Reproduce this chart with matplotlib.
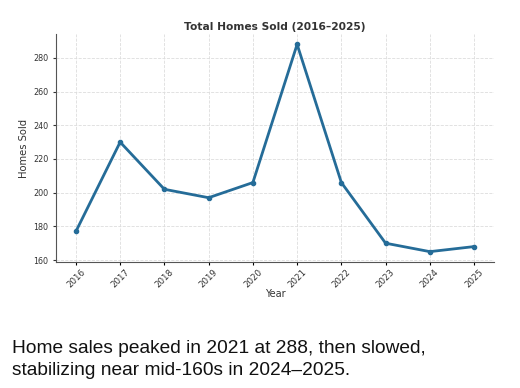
import matplotlib
matplotlib.use("Agg")
import matplotlib.pyplot as plt

years = [2016, 2017, 2018, 2019, 2020, 2021, 2022, 2023, 2024, 2025]
homes_sold = [177, 230, 202, 197, 206, 288, 206, 170, 165, 168]
yticks = [160, 180, 200, 220, 240, 260, 280]

fig = plt.figure(figsize=(5.2, 3.88), dpi=100)
ax = fig.add_axes([56/520, 1 - 262/388, (494-56)/520, (262-34)/388])

ax.plot(years, homes_sold, color="#256c98", linewidth=2, marker="o", markersize=3)
ax.set_xticks(years)
ax.set_xticklabels([str(y) for y in years], rotation=45, fontsize=6.2, color="#333333")
ax.set_yticks(yticks)
ax.tick_params(axis="y", labelsize=5.8, colors="#333333", length=2)
ax.tick_params(axis="x", length=2, pad=2)
ax.grid(True, linestyle="--", color="#dddddd", linewidth=0.6)
for s in ["top", "right"]:
    ax.spines[s].set_visible(False)
for s in ["left", "bottom"]:
    ax.spines[s].set_color("#555555")
ax.set_title("Total Homes Sold (2016\u20132025)", fontsize=7.7, fontweight="bold", color="#333333", pad=3)
ax.set_xlabel("Year", fontsize=7, color="#333333", labelpad=0)
ax.set_ylabel("Homes Sold", fontsize=7.2, color="#333333", labelpad=3)

fig.text(12/520, 1 - 353/388, "Home sales peaked in 2021 at 288, then slowed,",
         fontsize=13.8, family="Liberation Sans", color="#111111", va="baseline")
fig.text(12/520, 1 - 375/388, "stabilizing near mid-160s in 2024\u20132025.",
         fontsize=13.8, family="Liberation Sans", color="#111111", va="baseline")

fig.savefig("out.png", dpi=100)
